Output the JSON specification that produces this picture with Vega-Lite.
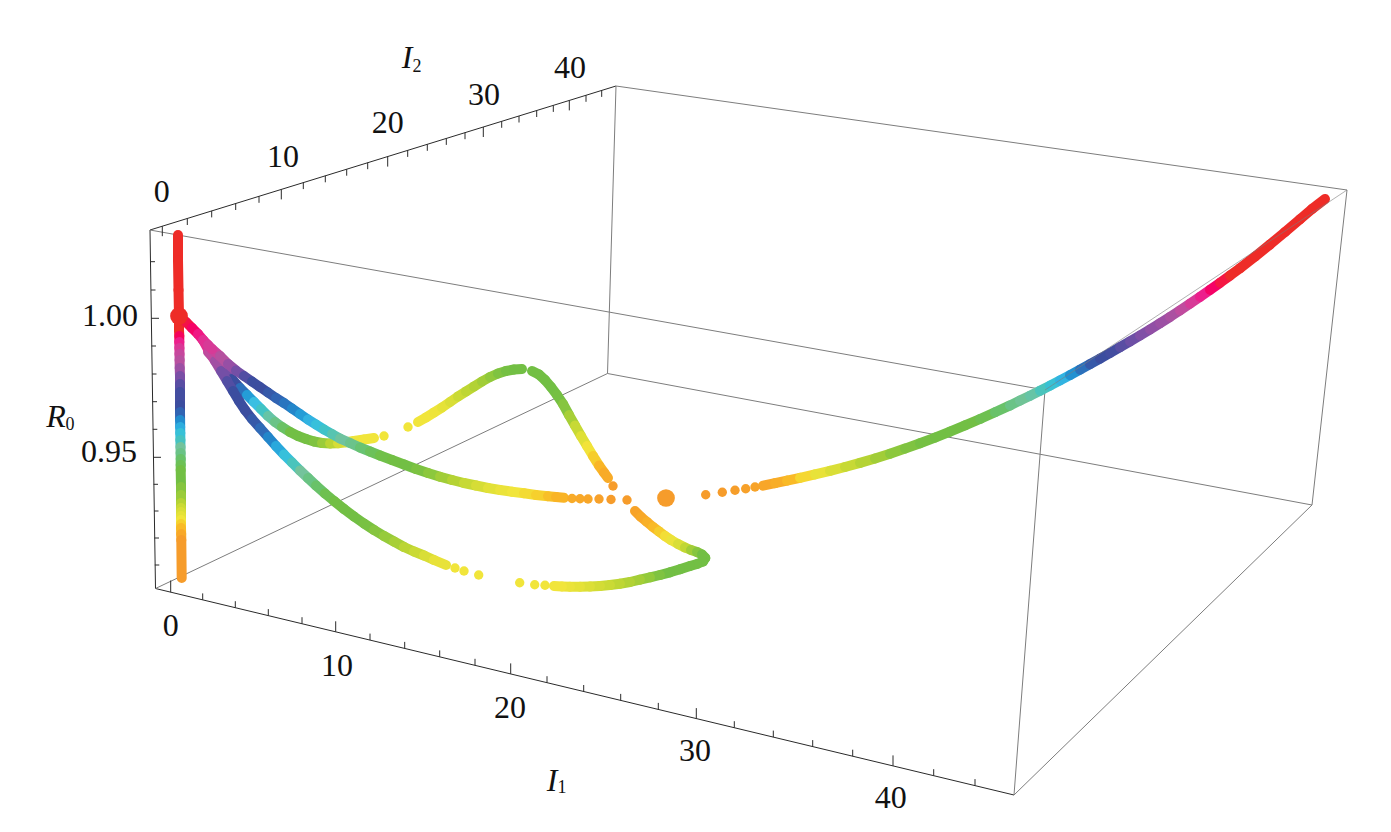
{"$schema":"https://vega.github.io/schema/vega-lite/v6.json","width":1391,"height":832,"padding":0,"autosize":{"type":"fit","contains":"padding"},"background":"white","config":{"view":{"stroke":null}},
"datasets":{
"frame":[
{"part":"axis","x":150,"y":230,"x2":616,"y2":86},{"part":"axis","x":155.5,"y":588.5,"x2":1014,"y2":795},{"part":"axis","x":150,"y":230,"x2":155.5,"y2":588.5},
{"part":"box","x":150,"y":230,"x2":1045,"y2":390},{"part":"box","x":616,"y":86,"x2":1347,"y2":190},{"part":"box","x":155.5,"y":588.5,"x2":607.5,"y2":373.5},{"part":"box","x":607.5,"y":373.5,"x2":1312,"y2":505},{"part":"box","x":1014,"y":795,"x2":1312,"y2":505},{"part":"box","x":616,"y":86,"x2":607.5,"y2":373.5},{"part":"box","x":1045,"y":390,"x2":1014,"y2":795},{"part":"box","x":1347,"y":190,"x2":1312,"y2":505},
{"part":"front","x":1045,"y":390,"x2":1347,"y2":190},
{"part":"axis","x":162.3,"y":226.2,"x2":162.3,"y2":236.2},{"part":"axis","x":187.3,"y":218.5,"x2":187.3,"y2":225},{"part":"axis","x":211.7,"y":210.9,"x2":211.7,"y2":217.4},{"part":"axis","x":235.7,"y":203.5,"x2":235.7,"y2":210},{"part":"axis","x":259,"y":196.3,"x2":259,"y2":202.8},{"part":"axis","x":281.3,"y":189.4,"x2":281.3,"y2":199.4},{"part":"axis","x":303.3,"y":182.6,"x2":303.3,"y2":189.1},{"part":"axis","x":325.3,"y":175.8,"x2":325.3,"y2":182.3},{"part":"axis","x":346.7,"y":169.2,"x2":346.7,"y2":175.7},{"part":"axis","x":367.7,"y":162.7,"x2":367.7,"y2":169.2},{"part":"axis","x":387.7,"y":156.6,"x2":387.7,"y2":166.6},{"part":"axis","x":407.7,"y":150.4,"x2":407.7,"y2":156.9},{"part":"axis","x":427.3,"y":144.3,"x2":427.3,"y2":150.8},{"part":"axis","x":446.3,"y":138.4,"x2":446.3,"y2":144.9},{"part":"axis","x":465,"y":132.7,"x2":465,"y2":139.2},{"part":"axis","x":483.3,"y":127,"x2":483.3,"y2":137},{"part":"axis","x":501.7,"y":121.3,"x2":501.7,"y2":127.8},{"part":"axis","x":519,"y":116,"x2":519,"y2":122.5},{"part":"axis","x":536.7,"y":110.5,"x2":536.7,"y2":117},{"part":"axis","x":553.3,"y":105.4,"x2":553.3,"y2":111.9},{"part":"axis","x":569.3,"y":100.4,"x2":569.3,"y2":110.4},{"part":"axis","x":586,"y":95.3,"x2":586,"y2":101.8},{"part":"axis","x":601.7,"y":90.4,"x2":601.7,"y2":96.9},
{"part":"axis","x":170.7,"y":592.2,"x2":170.7,"y2":580.5},{"part":"axis","x":202.7,"y":599.9,"x2":202.7,"y2":593.4},{"part":"axis","x":235.3,"y":607.7,"x2":235.3,"y2":601.2},{"part":"axis","x":268.3,"y":615.6,"x2":268.3,"y2":609.1},{"part":"axis","x":302,"y":623.7,"x2":302,"y2":617.2},{"part":"axis","x":335.7,"y":631.8,"x2":335.7,"y2":621.3},{"part":"axis","x":370,"y":640.1,"x2":370,"y2":633.6},{"part":"axis","x":404.7,"y":648.4,"x2":404.7,"y2":641.9},{"part":"axis","x":439.7,"y":656.9,"x2":439.7,"y2":650.4},{"part":"axis","x":475,"y":665.3,"x2":475,"y2":658.8},{"part":"axis","x":510.7,"y":673.9,"x2":510.7,"y2":663.4},{"part":"axis","x":547,"y":682.7,"x2":547,"y2":676.2},{"part":"axis","x":583.7,"y":691.5,"x2":583.7,"y2":685},{"part":"axis","x":620.7,"y":700.4,"x2":620.7,"y2":693.9},{"part":"axis","x":658.3,"y":709.4,"x2":658.3,"y2":702.9},{"part":"axis","x":696.3,"y":718.6,"x2":696.3,"y2":708.1},{"part":"axis","x":734.3,"y":727.7,"x2":734.3,"y2":721.2},{"part":"axis","x":773.3,"y":737.1,"x2":773.3,"y2":730.6},{"part":"axis","x":812.7,"y":746.6,"x2":812.7,"y2":740.1},{"part":"axis","x":852.7,"y":756.2,"x2":852.7,"y2":749.7},{"part":"axis","x":893,"y":765.9,"x2":893,"y2":755.4},{"part":"axis","x":933.7,"y":775.7,"x2":933.7,"y2":769.2},{"part":"axis","x":975,"y":785.6,"x2":975,"y2":779.1},
{"part":"axis","x":150.5,"y":261.7,"x2":155,"y2":261.7},{"part":"axis","x":151,"y":290,"x2":155.5,"y2":290},{"part":"axis","x":151.2,"y":318.3,"x2":159,"y2":318.3},{"part":"axis","x":151.6,"y":346,"x2":156,"y2":346},{"part":"axis","x":152,"y":374,"x2":156.5,"y2":374},{"part":"axis","x":152.4,"y":401.7,"x2":157,"y2":401.7},{"part":"axis","x":152.8,"y":429.3,"x2":157.3,"y2":429.3},{"part":"axis","x":153.2,"y":457.3,"x2":161,"y2":457.3},{"part":"axis","x":153.6,"y":484.3,"x2":158,"y2":484.3},{"part":"axis","x":154,"y":511,"x2":158.5,"y2":511},{"part":"axis","x":154.4,"y":538,"x2":159,"y2":538},{"part":"axis","x":154.8,"y":565,"x2":159.3,"y2":565}
],
"curve":[
{"run":"vertical","x":178,"y":235,"level":0},{"run":"vertical","x":178,"y":260,"level":0},{"run":"vertical","x":178.5,"y":290,"level":0},{"run":"vertical","x":179,"y":316,"level":0},{"run":"vertical","x":179,"y":330,"level":0},{"run":"vertical","x":179.3,"y":336,"level":0.5},{"run":"vertical","x":179.3,"y":342,"level":1},{"run":"vertical","x":179.4,"y":348,"level":1.35},{"run":"vertical","x":179.5,"y":354,"level":1.7},{"run":"vertical","x":179.6,"y":360,"level":1.95},{"run":"vertical","x":179.7,"y":368,"level":2.25},{"run":"vertical","x":180,"y":376,"level":2.55},{"run":"vertical","x":180,"y":384,"level":2.8},{"run":"vertical","x":180,"y":392,"level":2.95},{"run":"vertical","x":180,"y":405,"level":3},{"run":"vertical","x":180,"y":412,"level":3.2},{"run":"vertical","x":180.1,"y":420,"level":3.55},{"run":"vertical","x":180.2,"y":427,"level":3.85},{"run":"vertical","x":180.3,"y":433,"level":4.2},{"run":"vertical","x":180.4,"y":440,"level":4.5},{"run":"vertical","x":180.5,"y":447,"level":5},{"run":"vertical","x":180.6,"y":453,"level":5.3},{"run":"vertical","x":180.7,"y":459,"level":5.65},{"run":"vertical","x":180.7,"y":465,"level":5.85},{"run":"vertical","x":180.7,"y":470,"level":6},{"run":"vertical","x":181,"y":487,"level":6.3},{"run":"vertical","x":181,"y":495,"level":6.6},{"run":"vertical","x":181,"y":503,"level":7},{"run":"vertical","x":181,"y":508,"level":7.35},{"run":"vertical","x":181,"y":512,"level":7.6},{"run":"vertical","x":181,"y":516,"level":7.8},{"run":"vertical","x":181,"y":520,"level":8},{"run":"vertical","x":181,"y":524,"level":8.45},{"run":"vertical","x":181,"y":528,"level":8.9},{"run":"vertical","x":181.2,"y":534,"level":9.5},{"run":"vertical","x":181.3,"y":540,"level":10},{"run":"vertical","x":181.7,"y":578,"level":10},
{"run":"middle","x":208,"y":352,"level":2},{"run":"middle","x":216,"y":361,"level":2.2},{"run":"middle","x":224,"y":370,"level":2.6},{"run":"middle","x":232,"y":379,"level":3},{"run":"middle","x":240,"y":388,"level":3.3},{"run":"middle","x":247,"y":395,"level":3.7},{"run":"middle","x":254,"y":402,"level":4.05},{"run":"middle","x":261,"y":409,"level":4.45},{"run":"middle","x":268,"y":416,"level":4.85},{"run":"middle","x":275,"y":422,"level":5.3},{"run":"middle","x":282,"y":427,"level":5.7},{"run":"middle","x":290,"y":432,"level":6},{"run":"middle","x":298,"y":436,"level":6},{"run":"middle","x":306,"y":439,"level":6.05},{"run":"middle","x":314,"y":441.5,"level":6.2},{"run":"middle","x":322,"y":443,"level":6.6},{"run":"middle","x":330,"y":443.5,"level":7.1},{"run":"middle","x":338,"y":443.3,"level":7.55},{"run":"middle","x":346,"y":442.3,"level":7.8},{"run":"middle","x":354,"y":441,"level":7.95},{"run":"middle","x":364,"y":439.5,"level":8},{"run":"middle","x":374,"y":438,"level":8},
{"run":"rise","x":418,"y":422,"level":8},{"run":"rise","x":426,"y":417.5,"level":8},{"run":"rise","x":434,"y":412.5,"level":7.95},{"run":"rise","x":442,"y":407.5,"level":7.8},{"run":"rise","x":450,"y":402,"level":7.6},{"run":"rise","x":458,"y":396.5,"level":7.35},{"run":"rise","x":466,"y":391.5,"level":7.15},{"run":"rise","x":474,"y":386.5,"level":6.95},{"run":"rise","x":482,"y":381.5,"level":6.7},{"run":"rise","x":490,"y":377,"level":6.45},{"run":"rise","x":498,"y":373.5,"level":6.2},{"run":"rise","x":506,"y":371,"level":6.05},{"run":"rise","x":514,"y":369.5,"level":6},{"run":"rise","x":522,"y":369,"level":6},
{"run":"fall","x":532,"y":371,"level":6},{"run":"fall","x":539,"y":374.5,"level":6},{"run":"fall","x":545,"y":380,"level":6},{"run":"fall","x":551,"y":387,"level":6},{"run":"fall","x":557,"y":395,"level":6.05},{"run":"fall","x":563,"y":404,"level":6.3},{"run":"fall","x":569,"y":415,"level":6.8},{"run":"fall","x":575,"y":425.5,"level":7.3},{"run":"fall","x":581,"y":436,"level":7.7},{"run":"fall","x":587,"y":446,"level":8.05},{"run":"fall","x":593,"y":456,"level":8.5},{"run":"fall","x":599,"y":465.5,"level":9},{"run":"fall","x":604,"y":472.5,"level":9.4},{"run":"fall","x":608,"y":478,"level":9.7},
{"run":"tip","x":635,"y":511,"level":9.7},{"run":"tip","x":641,"y":517,"level":9.5},{"run":"tip","x":647,"y":522,"level":9.2},{"run":"tip","x":653,"y":527,"level":8.9},{"run":"tip","x":659,"y":531.5,"level":8.5},{"run":"tip","x":665,"y":536,"level":8.15},{"run":"tip","x":671,"y":540,"level":7.9},{"run":"tip","x":678,"y":544,"level":7.6},{"run":"tip","x":685,"y":547.5,"level":7.2},{"run":"tip","x":691,"y":550,"level":6.7},{"run":"tip","x":697,"y":552,"level":6.3},{"run":"tip","x":702,"y":554.5,"level":6},{"run":"tip","x":705.3,"y":558,"level":6},{"run":"tip","x":703,"y":561.5,"level":6},{"run":"tip","x":697,"y":564,"level":6},{"run":"tip","x":690,"y":566,"level":6},{"run":"tip","x":680,"y":569.3,"level":6},{"run":"tip","x":670,"y":572.3,"level":6},{"run":"tip","x":660,"y":575,"level":6.2},{"run":"tip","x":650,"y":577.3,"level":6.5},{"run":"tip","x":640,"y":579.7,"level":6.75},{"run":"tip","x":630,"y":582,"level":6.95},{"run":"tip","x":620,"y":583.7,"level":7.15},{"run":"tip","x":610,"y":585,"level":7.35},{"run":"tip","x":600,"y":586,"level":7.5},{"run":"tip","x":590,"y":586.5,"level":7.65},{"run":"tip","x":580,"y":586.7,"level":7.8},{"run":"tip","x":570,"y":586.7,"level":7.9},{"run":"tip","x":562,"y":586.4,"level":8},{"run":"tip","x":554,"y":586,"level":8},
{"run":"lower","x":203,"y":340,"level":1.2},{"run":"lower","x":209,"y":351,"level":1.8},{"run":"lower","x":215,"y":361,"level":2.2},{"run":"lower","x":221,"y":371,"level":2.6},{"run":"lower","x":227,"y":381,"level":2.85},{"run":"lower","x":233,"y":391,"level":3},{"run":"lower","x":239,"y":401,"level":3},{"run":"lower","x":245,"y":410,"level":3},{"run":"lower","x":252,"y":419,"level":3.1},{"run":"lower","x":260,"y":428,"level":3.25},{"run":"lower","x":268,"y":437,"level":3.5},{"run":"lower","x":276,"y":446,"level":3.8},{"run":"lower","x":284,"y":454.5,"level":4.15},{"run":"lower","x":292,"y":462.5,"level":4.55},{"run":"lower","x":300,"y":470.5,"level":5},{"run":"lower","x":308,"y":478,"level":5.35},{"run":"lower","x":316,"y":485.5,"level":5.65},{"run":"lower","x":325,"y":493.5,"level":5.9},{"run":"lower","x":334,"y":501,"level":6},{"run":"lower","x":344,"y":509,"level":6},{"run":"lower","x":354,"y":516.5,"level":6},{"run":"lower","x":364,"y":523.5,"level":6.1},{"run":"lower","x":374,"y":530,"level":6.3},{"run":"lower","x":384,"y":536,"level":6.55},{"run":"lower","x":394,"y":541.5,"level":6.8},{"run":"lower","x":404,"y":547,"level":7.1},{"run":"lower","x":414,"y":551.5,"level":7.35},{"run":"lower","x":424,"y":555.5,"level":7.6},{"run":"lower","x":434,"y":560,"level":7.85},{"run":"lower","x":446,"y":565,"level":8},
{"run":"upper","x":212,"y":349,"level":1.6},{"run":"upper","x":220,"y":356,"level":2},{"run":"upper","x":228,"y":364,"level":2.3},{"run":"upper","x":236,"y":370.5,"level":2.6},{"run":"upper","x":244,"y":376,"level":2.85},{"run":"upper","x":252,"y":381.5,"level":3},{"run":"upper","x":260,"y":387,"level":3},{"run":"upper","x":268,"y":392.5,"level":3.1},{"run":"upper","x":276,"y":398,"level":3.2},{"run":"upper","x":284,"y":403,"level":3.35},{"run":"upper","x":292,"y":408.5,"level":3.5},{"run":"upper","x":300,"y":414,"level":3.7},{"run":"upper","x":308,"y":419.5,"level":3.9},{"run":"upper","x":316,"y":424.5,"level":4.15},{"run":"upper","x":324,"y":429.5,"level":4.4},{"run":"upper","x":332,"y":434,"level":4.7},{"run":"upper","x":340,"y":438.5,"level":4.95},{"run":"upper","x":350,"y":443,"level":5.25},{"run":"upper","x":360,"y":447.5,"level":5.55},{"run":"upper","x":370,"y":451.5,"level":5.8},{"run":"upper","x":380,"y":455.5,"level":5.95},{"run":"upper","x":392,"y":460,"level":6},{"run":"upper","x":404,"y":464.5,"level":6},{"run":"upper","x":416,"y":469,"level":6.15},{"run":"upper","x":428,"y":473,"level":6.4},{"run":"upper","x":440,"y":476.7,"level":6.7},{"run":"upper","x":452,"y":480,"level":7},{"run":"upper","x":464,"y":483,"level":7.3},{"run":"upper","x":476,"y":485.5,"level":7.55},{"run":"upper","x":488,"y":488,"level":7.75},{"run":"upper","x":500,"y":490,"level":7.9},{"run":"upper","x":512,"y":491.7,"level":8},{"run":"upper","x":524,"y":493.3,"level":8.2},{"run":"upper","x":536,"y":495,"level":8.45},{"run":"upper","x":548,"y":496.2,"level":8.8},{"run":"upper","x":556,"y":497,"level":9.05},{"run":"upper","x":564,"y":497.8,"level":9.3},
{"run":"stem","x":179,"y":316,"level":0},{"run":"stem","x":186,"y":322,"level":0.3},{"run":"stem","x":192,"y":328,"level":0.6},{"run":"stem","x":198,"y":334,"level":0.9},{"run":"stem","x":203,"y":340,"level":1.2},{"run":"stem","x":208,"y":345,"level":1.4},{"run":"stem","x":212,"y":349,"level":1.6},
{"run":"right","x":763,"y":485.7,"level":9.6},{"run":"right","x":775,"y":483.2,"level":9.3},{"run":"right","x":787,"y":480.6,"level":8.9},{"run":"right","x":800,"y":477.8,"level":8.3},{"run":"right","x":815,"y":474.4,"level":7.85},{"run":"right","x":830,"y":470.8,"level":7.6},{"run":"right","x":845,"y":467,"level":7.3},{"run":"right","x":860,"y":462.9,"level":7},{"run":"right","x":875,"y":458.5,"level":6.7},{"run":"right","x":890,"y":453.7,"level":6.4},{"run":"right","x":905,"y":448.6,"level":6.2},{"run":"right","x":920,"y":443.2,"level":6.05},{"run":"right","x":935,"y":437.6,"level":6},{"run":"right","x":950,"y":431.6,"level":6},{"run":"right","x":965,"y":425.3,"level":6},{"run":"right","x":980,"y":419,"level":5.9},{"run":"right","x":995,"y":412.3,"level":5.65},{"run":"right","x":1010,"y":405.4,"level":5.3},{"run":"right","x":1020,"y":400.6,"level":5.1},{"run":"right","x":1030,"y":395.7,"level":4.85},{"run":"right","x":1040,"y":390.7,"level":4.55},{"run":"right","x":1050,"y":385.6,"level":4.25},{"run":"right","x":1060,"y":380.4,"level":3.9},{"run":"right","x":1070,"y":375.1,"level":3.6},{"run":"right","x":1080,"y":369.7,"level":3.3},{"run":"right","x":1090,"y":364.2,"level":3.1},{"run":"right","x":1100,"y":358.6,"level":3},{"run":"right","x":1110,"y":353,"level":2.95},{"run":"right","x":1120,"y":347.2,"level":2.8},{"run":"right","x":1130,"y":341.4,"level":2.65},{"run":"right","x":1140,"y":335.5,"level":2.5},{"run":"right","x":1150,"y":329.4,"level":2.35},{"run":"right","x":1160,"y":323.2,"level":2.25},{"run":"right","x":1170,"y":316.9,"level":2.1},{"run":"right","x":1180,"y":310.4,"level":1.8},{"run":"right","x":1190,"y":303.7,"level":1.4},{"run":"right","x":1200,"y":296.9,"level":1},{"run":"right","x":1210,"y":289.9,"level":0.6},{"run":"right","x":1220,"y":282.8,"level":0.25},{"run":"right","x":1230,"y":275.6,"level":0},{"run":"right","x":1240,"y":268.2,"level":0},{"run":"right","x":1255,"y":256.6,"level":0},{"run":"right","x":1270,"y":244.5,"level":0},{"run":"right","x":1285,"y":232,"level":0},{"run":"right","x":1300,"y":219.2,"level":0},{"run":"right","x":1312,"y":209,"level":0},{"run":"right","x":1325,"y":199,"level":0}
],
"dots":[
{"role":"sample","x":384,"y":436,"level":8},{"role":"sample","x":408,"y":427,"level":8},{"role":"sample","x":613,"y":486,"level":10},
{"role":"sample","x":572,"y":498.5,"level":9.4},{"role":"sample","x":580,"y":498.7,"level":9.5},{"role":"sample","x":588,"y":499,"level":9.6},{"role":"sample","x":599,"y":499,"level":9.8},{"role":"sample","x":611,"y":499.5,"level":10},{"role":"sample","x":627,"y":500,"level":10},
{"role":"sample","x":545,"y":585.3,"level":8},{"role":"sample","x":534.7,"y":584.7,"level":8},{"role":"sample","x":519.7,"y":582.7,"level":8},{"role":"sample","x":478.7,"y":575,"level":8},{"role":"sample","x":464,"y":571,"level":8},{"role":"sample","x":455,"y":568,"level":8},
{"role":"sample","x":705.7,"y":494.7,"level":10},{"role":"sample","x":722.3,"y":492.3,"level":10},{"role":"sample","x":735,"y":490.3,"level":9.9},{"role":"sample","x":745.7,"y":488.7,"level":9.8},{"role":"sample","x":755,"y":487,"level":9.7},
{"role":"equilibrium","x":179,"y":316,"level":0},{"role":"equilibrium","x":666,"y":498,"level":10}
],
"labels":[
{"style":"tick","label":"0","x":161.7,"y":192},{"style":"tick","label":"10","x":283,"y":157},{"style":"tick","label":"20","x":387.7,"y":123},{"style":"tick","label":"30","x":484,"y":95},{"style":"tick","label":"40","x":570,"y":68},
{"style":"tick","label":"0","x":170.7,"y":625.7},{"style":"tick","label":"10","x":337,"y":665.7},{"style":"tick","label":"20","x":510,"y":707.7},{"style":"tick","label":"30","x":695,"y":751},{"style":"tick","label":"40","x":890.7,"y":798},
{"style":"tick","label":"1.00","x":110,"y":316},{"style":"tick","label":"0.95","x":109,"y":452},
{"style":"name","label":"I","x":407,"y":58},{"style":"name","label":"I","x":552,"y":781},{"style":"name","label":"R","x":56,"y":417},
{"style":"sub","label":"2","x":417,"y":67},{"style":"sub","label":"1","x":562,"y":788},{"style":"sub","label":"0","x":70,"y":425}
]},
"encoding":{"x":{"field":"x","type":"quantitative","axis":null,"scale":{"domain":[0,1391]}},"y":{"field":"y","type":"quantitative","axis":null,"scale":{"domain":[832,0]}}},
"layer":[
{"data":{"name":"frame"},"transform":[{"filter":"datum.part!='front'"}],"mark":{"type":"rule","strokeWidth":1},"encoding":{"x2":{"field":"x2"},"y2":{"field":"y2"},"color":{"field":"part","type":"nominal","legend":null,"scale":{"domain":["axis","box"],"range":["#2a2a2a","#7d7d7d"]}}}},
{"data":{"name":"curve"},"transform":[{"window":[{"op":"lead","field":"x","as":"x2"},{"op":"lead","field":"y","as":"y2"}],"groupby":["run"]},{"filter":"isValid(datum.x2)"}],"mark":{"type":"rule","strokeWidth":10,"strokeCap":"round"},"encoding":{"x2":{"field":"x2"},"y2":{"field":"y2"},"color":{"field":"level","type":"quantitative","legend":null,"scale":{"domain":[0,1,2,3,4,5,6,7,8,9,10],"range":["#EE2C27","#EC1F8C","#B5519F","#3B4D9F","#3DBEE5","#74C39C","#72BF44","#B5D334","#F1E53B","#F9B526","#F69C2B"]}}}},
{"data":{"name":"dots"},"mark":{"type":"circle","opacity":1},"encoding":{"size":{"field":"role","type":"nominal","legend":null,"scale":{"domain":["sample","equilibrium"],"range":[88,314]}},"color":{"field":"level","type":"quantitative","legend":null,"scale":{"domain":[0,1,2,3,4,5,6,7,8,9,10],"range":["#EE2C27","#EC1F8C","#B5519F","#3B4D9F","#3DBEE5","#74C39C","#72BF44","#B5D334","#F1E53B","#F9B526","#F69C2B"]}}}},
{"data":{"name":"frame"},"transform":[{"filter":"datum.part=='front'"}],"mark":{"type":"rule","strokeWidth":1,"color":"#7d7d7d","opacity":0.6},"encoding":{"x2":{"field":"x2"},"y2":{"field":"y2"}}},
{"data":{"name":"labels"},"transform":[{"filter":"datum.style=='tick'"}],"mark":{"type":"text","font":"Liberation Serif","fontSize":32,"color":"#111","align":"center","baseline":"middle"},"encoding":{"text":{"field":"label"}}},
{"data":{"name":"labels"},"transform":[{"filter":"datum.style=='name'"}],"mark":{"type":"text","font":"Liberation Serif","fontSize":32,"fontStyle":"italic","color":"#111","align":"center","baseline":"middle"},"encoding":{"text":{"field":"label"}}},
{"data":{"name":"labels"},"transform":[{"filter":"datum.style=='sub'"}],"mark":{"type":"text","font":"Liberation Serif","fontSize":18,"color":"#111","align":"center","baseline":"middle"},"encoding":{"text":{"field":"label"}}}
]}
